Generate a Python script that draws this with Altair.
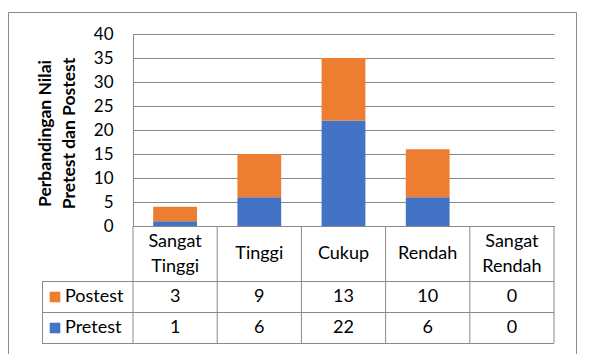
import altair as alt
import pandas as pd

categories = ["Sangat Tinggi", "Tinggi", "Cukup", "Rendah", "Sangat Rendah"]
header_text = ["Sangat\nTinggi", "Tinggi", "Cukup", "Rendah", "Sangat\nRendah"]
series = ["Postest", "Pretest"]
postest = [3, 9, 13, 10, 0]
pretest = [1, 6, 22, 6, 0]
colors = ["#ED7D31", "#4472C4"]
y_ticks = [0, 5, 10, 15, 20, 25, 30, 35, 40]
y_title = ["Perbandingan Nilai", "Pretest dan Postest"]

FONT = "Lato"
FS = 18
GRID = "#898989"

# long data for bars
rows = []
for c, v in zip(categories, pretest):
    rows.append({"cat": c, "series": "Pretest", "value": v, "ord": 0})
for c, v in zip(categories, postest):
    rows.append({"cat": c, "series": "Postest", "value": v, "ord": 1})
bars_df = pd.DataFrame(rows)

head_df = pd.DataFrame({"cat": categories, "label": header_text,
                        "n": [t.count("\n") + 1 for t in header_text]})
post_df = pd.DataFrame({"cat": categories, "label": [str(v) for v in postest]})
pre_df = pd.DataFrame({"cat": categories, "label": [str(v) for v in pretest]})
cat_df = pd.DataFrame({"cat": categories})
last_df = pd.DataFrame({"cat": [categories[-1]]})
ser_df = pd.DataFrame({"series": series, "row": [0, 1]})

xs = alt.X("cat:N", sort=categories,
           scale=alt.Scale(paddingInner=0, paddingOuter=0), axis=None)
color = alt.Color("series:N", scale=alt.Scale(domain=series, range=colors), legend=None)

bars = alt.Chart(bars_df).mark_bar(width=alt.RelativeBandSize(0.52)).encode(
    x=xs,
    y=alt.Y("value:Q", stack="zero",
            scale=alt.Scale(domain=[0, 40], nice=False),
            axis=alt.Axis(values=y_ticks, title=y_title, grid=True, ticks=False,
                          domain=True, domainColor=GRID, gridColor=GRID,
                          labelFont=FONT, labelFontSize=17, labelColor="#000000",
                          labelPadding=20,
                          titleFont=FONT, titleFontSize=17.5, titleFontWeight="bold",
                          titleColor="#000000", titleLineHeight=24,
                          titleAngle=270, titleAlign="center", titleBaseline="middle",
                          titleX=-88, titleY=99)),
    color=color,
    order=alt.Order("ord:Q"),
)

# table grid lines
vlines = alt.Chart(cat_df).mark_rule(color=GRID, strokeWidth=1).encode(
    x=alt.X("cat:N", sort=categories, bandPosition=0), y=alt.value(192), y2=alt.value(309))
vlast = alt.Chart(last_df).mark_rule(color=GRID, strokeWidth=1).encode(
    x=alt.X("cat:N", sort=categories, bandPosition=1), y=alt.value(192), y2=alt.value(309))
hl1 = alt.Chart(cat_df.head(1)).mark_rule(color=GRID).encode(
    x=alt.value(-91), x2=alt.value(421), y=alt.value(247.5))
hl2 = alt.Chart(cat_df.head(1)).mark_rule(color=GRID).encode(
    x=alt.value(-91), x2=alt.value(421), y=alt.value(278.5))
hl3 = alt.Chart(cat_df.head(1)).mark_rule(color=GRID).encode(
    x=alt.value(-91), x2=alt.value(421), y=alt.value(309.5))
vleft = alt.Chart(cat_df.head(1)).mark_rule(color=GRID).encode(
    x=alt.value(-90.5), y=alt.value(247.5), y2=alt.value(309.5))

txt = dict(font=FONT, fontSize=FS, color="#000000", baseline="middle", align="center")
head1 = alt.Chart(head_df).transform_filter("datum.n == 1").mark_text(**txt).encode(
    x=alt.X("cat:N", sort=categories), y=alt.value(220), text="label:N")
head2 = alt.Chart(head_df).transform_filter("datum.n == 2").mark_text(
    lineBreak="\n", lineHeight=25, **txt).encode(
    x=alt.X("cat:N", sort=categories), y=alt.value(207.5), text="label:N")
post_t = alt.Chart(post_df).mark_text(**txt).encode(
    x=alt.X("cat:N", sort=categories), y=alt.value(263), text="label:N")
pre_t = alt.Chart(pre_df).mark_text(**txt).encode(
    x=alt.X("cat:N", sort=categories), y=alt.value(294), text="label:N")

ys = alt.Y("row:Q", scale=alt.Scale(domain=[0, 1], range=[263, 294]), axis=None)
sq = alt.Chart(ser_df).mark_square(size=112, opacity=1).encode(
    x=alt.value(-78), y=ys, color=color)
sl = alt.Chart(ser_df).mark_text(font=FONT, fontSize=FS, color="#000000",
                                 baseline="middle", align="left").encode(
    x=alt.value(-68), y=ys, text="series:N")

border = alt.Chart(cat_df.head(1)).mark_rect(fill=None, stroke=GRID, strokeWidth=1).encode(
    x=alt.value(-124.5), x2=alt.value(443.5), y=alt.value(-21.5), y2=alt.value(320.5))

chart = alt.layer(
    border, bars, vlines, vlast, hl1, hl2, hl3, vleft, head1, head2, post_t, pre_t, sq, sl
).resolve_scale(y="independent").properties(
    width=421, height=192,
    autosize=alt.AutoSizeParams(type="none"),
    padding={"left": 125, "top": 26, "right": 30, "bottom": 128},
    background="white",
).configure_view(stroke=None)

chart.save("out.html", embed_options={"renderer": "svg", "actions": False})
